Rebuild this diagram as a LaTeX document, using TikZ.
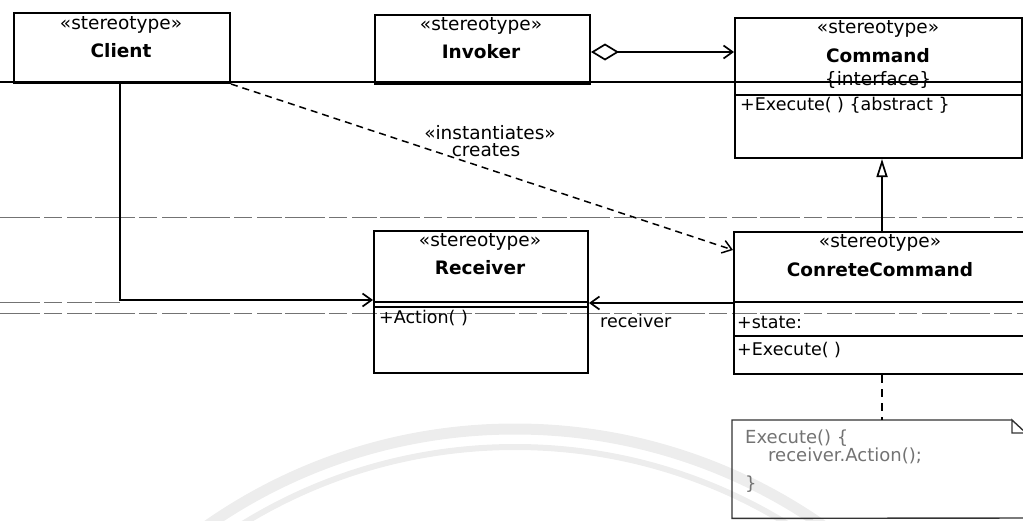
\documentclass[tikz,border=0pt]{standalone}
\usepackage{fontspec}
\setmainfont{DejaVu Sans}
\usetikzlibrary{arrows.meta}
\begin{document}
\begin{tikzpicture}[x=1pt,y=-1pt,
  box/.style={draw=black, line width=2pt, anchor=north west, inner sep=0pt},
  st/.style={font=\fontsize{18.5}{22}\selectfont, inner sep=0pt},
  nm/.style={font=\fontsize{18.5}{22}\selectfont\bfseries, inner sep=0pt},
  mem/.style={font=\fontsize{17.5}{20}\selectfont, inner sep=0pt, anchor=west},
  notetxt/.style={font=\fontsize{18}{21}\selectfont, inner sep=0pt, anchor=west, text=black!55},
  conn/.style={line width=1.7pt},
  barb/.style={-{Straight Barb[length=9pt,width=13pt]}},
  bgline/.style={black!55, line width=0.8pt, dash pattern=on 40pt off 4pt on 18pt off 5pt on 25pt off 3pt},
  wm/.style={black!7}
]
\useasboundingbox (0,0) rectangle (1023,520);
\clip (0,0) rectangle (1023,520);
% faint watermark
\draw[wm, line width=11pt] (515,967) circle[radius=538pt];
\draw[wm, line width=6pt] (515,967) circle[radius=520pt];
% background scan lines
\draw[black, line width=1.3pt] (0,82) -- (1023,82);
\draw[bgline] (0,217) -- (1023,217);
\draw[bgline] (0,302) -- (120,302);
\draw[bgline] (0,313) -- (1023,313);

% class boxes
\node[box, minimum width=216, minimum height=70] (client) at (13,12) {};
\node[box, minimum width=215, minimum height=69] (invoker) at (374,14) {};
\node[box, minimum width=287, minimum height=140] (cmd) at (734,17) {};
\node[box, minimum width=214, minimum height=142] (recv) at (373,230) {};
\node[box, minimum width=300, minimum height=142] (ccmd) at (733,231) {};

% compartments
\draw[line width=1.6pt] (cmd.west |- 0,95) -- (cmd.east |- 0,95);
\draw[line width=1.1pt] (recv.west |- 0,302) -- (recv.east |- 0,302);
\draw[line width=1.8pt] (recv.west |- 0,307) -- (recv.east |- 0,307);
\draw[line width=1.3pt] (ccmd.west |- 0,302) -- (ccmd.east |- 0,302);
\draw[line width=1.6pt] (ccmd.west |- 0,336) -- (ccmd.east |- 0,336);

% texts
\node[st] (clientst) at (121,25) {«stereotype»};
\node[nm] (clientnm) at (121,51) {Client};
\node[st] (invst) at (481,26) {«stereotype»};
\node[nm] (invnm) at (481,52) {Invoker};
\node[st] (cmdst) at (878,29) {«stereotype»};
\node[nm] (cmdnm) at (878,56) {Command};
\node[st] (cmdif) at (878,80) {\{interface\}};
\node[mem] (cmdop) at (740,105) {+Execute( ) \{abstract \}};
\node[st] (recvst) at (480,242) {«stereotype»};
\node[nm] (recvnm) at (480,268) {Receiver};
\node[mem] (recvop) at (379,318) {+Action( )};
\node[st] (ccmdst) at (880,243) {«stereotype»};
\node[nm] (ccmdnm) at (880,270) {ConreteCommand};
\node[mem] (ccmdat) at (737,322) {+state:};
\node[mem] (ccmdop) at (737,350) {+Execute( )};

% note
\node[anchor=north west, minimum width=300, minimum height=98, inner sep=0pt] (note) at (732,420) {};
\draw[black!80, line width=1.4pt] (1012,420) -- (note.north west) -- (note.south west) -- (1030,518);
\draw[black!80, line width=1.4pt] (1012,420) -- (1012,433) -- (1026,433) -- cycle;
\node[notetxt] (n1) at (745,438) {Execute() \{};
\node[notetxt] (n2) at (768,456) {receiver.Action();};
\node[notetxt] (n3) at (745,484) {\}};

% connectors
\draw[conn, {Diamond[open,length=28pt,width=17pt]}-{Straight Barb[length=9pt,width=13pt]}]
  (invoker.east |- 0,52) -- (cmd.west |- 0,52);
\draw[conn, -{Triangle[open,length=18pt,width=11pt]}] (ccmd.north -| 882,0) -- (cmd.south -| 882,0);
\draw[conn, barb] (client.south -| 120,0) |- (recv.west |- 0,300);
\draw[conn, barb] (ccmd.west |- 0,303) -- (recv.east |- 0,303);
\node[mem] (recvlbl) at (600,321) {receiver};
\draw[line width=1.5pt, dash pattern=on 7pt off 5pt, barb] (client.south east) -- (ccmd.west |- 0,250);
\node[st] (inst) at (490,133) {«instantiates»};
\node[st] (creates) at (486,150) {creates};
\draw[line width=1.6pt, dash pattern=on 8pt off 6pt] (ccmd.south -| 882,0) -- (note.north -| 882,0);
\end{tikzpicture}
\end{document}
